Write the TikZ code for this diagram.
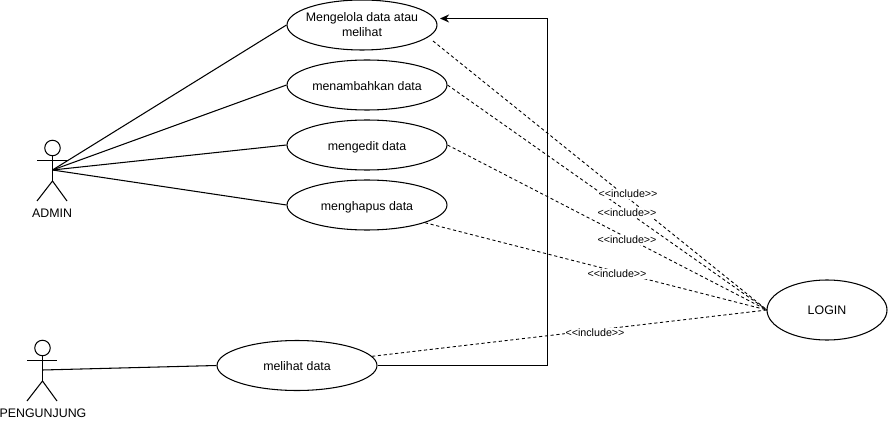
\documentclass[tikz,border=0pt]{standalone}
\usepackage{fontspec}
\setmainfont{Liberation Sans}
\usetikzlibrary{arrows.meta,shapes.geometric}

\begin{document}
\begin{tikzpicture}[
    >={Stealth[length=5.2pt,width=4.6pt]},
    x=0.02cm,
    y=-0.02cm,
    line width=0.6pt,
    font=\fontsize{7.05}{8.5}\selectfont,
    usecase/.style={draw, ellipse, inner sep=0pt, minimum width=3.2cm, minimum height=1cm, align=center},
    usecasetext/.style={text height=6pt, text depth=0pt},
    actorhead/.style={draw, circle, inner sep=0pt, minimum size=0.31cm},
    includeline/.style={dash pattern=on 1.8pt off 1.5pt, line width=0.5pt},
    includelabel/.style={fill=white, inner sep=0.5pt, font=\fontsize{6.1}{7}\selectfont}
]

\useasboundingbox (0,0) rectangle (888,422);

% Kasus penggunaan
\node[usecase, minimum width=3cm, inner xsep=-3.5pt] (mengelola) at (362,25) {Mengelola data atau\\melihat};
\node[usecase, usecasetext] (menambahkan) at (367,85) {menambahkan data};
\node[usecase, usecasetext] (mengedit) at (367,145) {mengedit data};
\node[usecase, usecasetext] (menghapus) at (367,205) {menghapus data};
\node[usecase, usecasetext] (melihat) at (297,365.5) {melihat data};
\node[usecase, minimum width=2.4cm, minimum height=1.2cm] (login) at (827,310) {LOGIN};

% Aktor admin
\node[actorhead] (adminhead) at (52.5,148) {};
\coordinate (adminhip) at (52.5,170);
\draw (adminhead) -- (52.5,181);
\draw (37,160.5) -- (67,160.5);
\draw (37,201) -- (52.5,181) -- (67,201);
\node (adminlabel) at (52,213) {ADMIN};

% Aktor pengunjung
\node[actorhead] (pengunjunghead) at (42.5,348) {};
\coordinate (pengunjunghip) at (42.5,370);
\draw (pengunjunghead) -- (42.5,381);
\draw (27,360.5) -- (57,360.5);
\draw (27,401) -- (42.5,381) -- (57,401);
\node (pengunjunglabel) at (43,413) {PENGUNJUNG};

% Garis aktor
\draw (adminhip) -- (mengelola.west);
\draw (adminhip) -- (menambahkan.west);
\draw (adminhip) -- (mengedit.west);
\draw (adminhip) -- (menghapus.west);
\draw (pengunjunghip) -- (melihat.west);

% Garis include
\coordinate (loginin) at (767,310);
\coordinate (mengelolaout) at (433,41);
\draw[includeline] (mengelolaout) -- (loginin);
\draw[includeline] (menambahkan.east) -- (loginin);
\draw[includeline] (mengedit.east) -- (loginin);
\draw[includeline] (menghapus.-17) -- (loginin);
\draw[includeline] (melihat.7) -- (loginin);

% Label include
\node[includelabel] (include1) at (628,194) {<{}<include>{}>};
\node[includelabel] (include2) at (627,213) {<{}<include>{}>};
\node[includelabel] (include3) at (627,240) {<{}<include>{}>};
\node[includelabel] (include4) at (617,274) {<{}<include>{}>};
\node[includelabel] (include5) at (595,333) {<{}<include>{}>};

% Panah melihat data
\draw[->] (melihat.east) -- (547.5,365.5) -- (547.5,18.5) -- (440,18.5);

\end{tikzpicture}
\end{document}
